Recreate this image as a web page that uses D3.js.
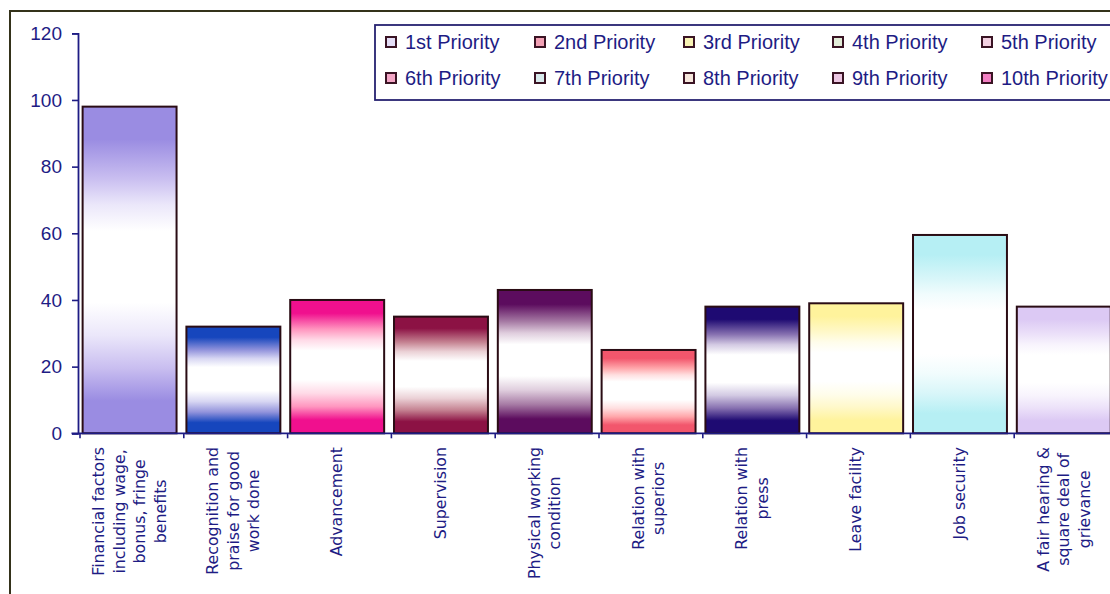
<!DOCTYPE html>
<html>
<head>
<meta charset="utf-8">
<script src="https://cdn.jsdelivr.net/npm/d3@7"></script>
<style>
  html, body { margin: 0; padding: 0; background: #ffffff; }
  svg { display: block; }
</style>
</head>
<body>
<svg id="chart" width="1110" height="594"></svg>
<script>
// Factors ranked by respondents, one bar per factor
const categories = [
  ["Financial factors", "including wage,", "bonus, fringe", "benefits"],
  ["Recognition and", "praise for good", "work done"],
  ["Advancement"],
  ["Supervision"],
  ["Physical working", "condition"],
  ["Relation with", "superiors"],
  ["Relation with", "press"],
  ["Leave facility"],
  ["Job security"],
  ["A fair hearing &", "square deal of", "grievance"]
];
const values = [98, 32, 40, 35, 43, 25, 38, 39, 59.5, 38];
const barColors = ["#9a8ce2", "#1646bd", "#f0108e", "#8c1244", "#5c0c5e",
                   "#f2566c", "#1e0a72", "#fff39c", "#b6eff4", "#dcc9f4"];
const yTicks = [0, 20, 40, 60, 80, 100, 120];
const legendLabels = ["1st Priority", "2nd Priority", "3rd Priority", "4th Priority", "5th Priority",
                      "6th Priority", "7th Priority", "8th Priority", "9th Priority", "10th Priority"];
const legendColors = ["#e4ddf6", "#f2a0b4", "#f8f2b4", "#e2ecd8", "#f2cfe0",
                      "#f4a6c6", "#d8eaec", "#f6e6dc", "#ecc6e2", "#f27ec2"];

const navy = "#1e1c84";
const svg = d3.select("#chart");

// outer chart frame
svg.append("rect")
  .attr("x", 10).attr("y", 11)
  .attr("width", 1200).attr("height", 700)
  .attr("fill", "#ffffff")
  .attr("stroke", "#34321a").attr("stroke-width", 2);

const x0 = 79.5, step = 103.8;
const keys = categories.map(c => c.join(" "));
const x = d3.scaleBand().domain(keys).range([x0, x0 + step * keys.length]).padding(0);
const xEdge = d3.scaleLinear().domain([0, keys.length]).range([x0, x0 + step * keys.length]);
const y = d3.scaleLinear().domain([0, 120]).range([433.3, 33.3]);

// vertical gradients: colour at the ends, white band through the middle
const defs = svg.append("defs");
barColors.forEach((c, i) => {
  const g = defs.append("linearGradient")
    .attr("id", "g" + i)
    .attr("x1", 0).attr("y1", 0).attr("x2", 0).attr("y2", 1);
  const mix = d3.interpolateLab(c, "#ffffff");
  const stops = [
    [0, c], [0.1, c], [0.22, mix(0.45)], [0.3, mix(0.8)], [0.38, "#ffffff"],
    [0.6, "#ffffff"], [0.7, mix(0.8)], [0.8, mix(0.45)], [0.9, c], [1, c]
  ];
  stops.forEach(([o, col]) => g.append("stop").attr("offset", o).attr("stop-color", col));
});

// bars
svg.append("g").selectAll("rect")
  .data(values)
  .join("rect")
  .attr("x", (d, i) => x(keys[i]) + x.bandwidth() * 0.03)
  .attr("width", x.bandwidth() * 0.905)
  .attr("y", d => y(d))
  .attr("height", d => y(0) - y(d))
  .attr("fill", (d, i) => `url(#g${i})`)
  .attr("stroke", "#2a0c14")
  .attr("stroke-width", 2);

// y axis
const yAxis = svg.append("g")
  .attr("transform", `translate(${x0 - 1.5},0)`)
  .call(d3.axisLeft(y).tickValues(yTicks).tickSize(6).tickPadding(10).tickFormat(d3.format("d")));
yAxis.select(".domain").attr("stroke", navy).attr("stroke-width", 1.8);
yAxis.selectAll(".tick line").attr("stroke", navy).attr("stroke-width", 1.6);
yAxis.selectAll(".tick text")
  .attr("fill", navy)
  .style("font-family", "'Liberation Sans', Arial, sans-serif")
  .style("font-size", "19px");

// x axis with ticks between categories
const xAxis = svg.append("g")
  .attr("transform", `translate(0,${y(0)})`)
  .call(d3.axisBottom(xEdge).tickValues(d3.range(0, keys.length + 1)).tickSize(5).tickSizeOuter(0).tickFormat(""));
xAxis.select(".domain").attr("stroke", navy).attr("stroke-width", 1.8)
  .attr("d", `M${x0 - 8},0H${x0 + step * keys.length + 20}`);
xAxis.selectAll(".tick line").attr("stroke", navy).attr("stroke-width", 1.6);

// rotated category labels, lines centred within each label block
const lineGap = 20.5;
const labels = svg.append("g");
categories.forEach((lines, i) => {
  const cx = x(keys[i]) + x.bandwidth() * 0.48;
  const g = labels.append("g");
  const texts = lines.map((ln, j) =>
    g.append("text")
      .attr("text-anchor", "middle")
      .attr("dominant-baseline", "central")
      .attr("y", (j - (lines.length - 1) / 2) * lineGap)
      .attr("fill", navy)
      .style("font-family", "'DejaVu Sans', Verdana, sans-serif")
      .style("font-size", "15.8px")
      .text(ln));
  const maxLen = d3.max(texts, t => t.node().getComputedTextLength());
  texts.forEach(t => t.attr("x", -maxLen / 2));
  g.attr("transform", `translate(${cx},447) rotate(-90)`);
});

// legend
const legend = svg.append("g");
legend.append("rect")
  .attr("x", 375).attr("y", 25)
  .attr("width", 800).attr("height", 75)
  .attr("fill", "#ffffff")
  .attr("stroke", "#262270").attr("stroke-width", 1.8);
legendLabels.forEach((lab, i) => {
  const col = i % 5, row = Math.floor(i / 5);
  const tx = 405 + col * 149;
  const cy = 42 + row * 36;
  legend.append("rect")
    .attr("x", tx - 19).attr("y", cy - 5)
    .attr("width", 10).attr("height", 10)
    .attr("fill", legendColors[i])
    .attr("stroke", "#3a1424").attr("stroke-width", 2);
  legend.append("text")
    .attr("x", tx).attr("y", cy)
    .attr("dominant-baseline", "central")
    .attr("fill", navy)
    .style("font-family", "'Liberation Sans', Arial, sans-serif")
    .style("font-size", "20px")
    .text(lab);
});
</script>
</body>
</html>
